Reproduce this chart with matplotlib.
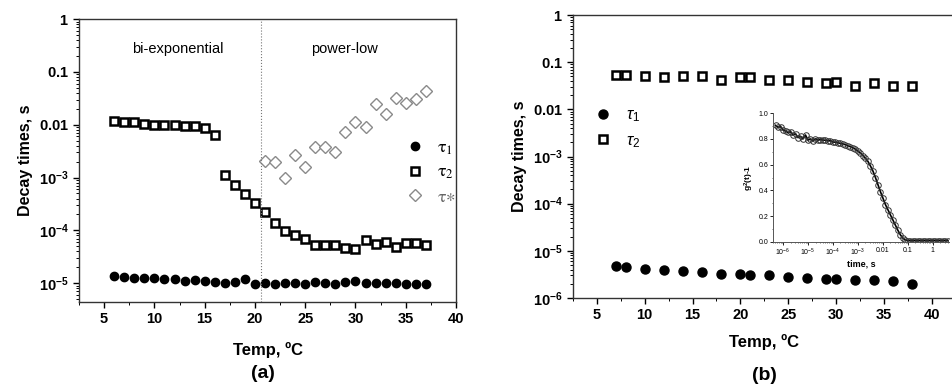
import numpy as np
import matplotlib
matplotlib.use("Agg")
import matplotlib.pyplot as plt
from matplotlib.ticker import LogLocator, MultipleLocator, NullFormatter, FuncFormatter

plt.rcParams['font.family'] = ['Liberation Sans', 'DejaVu Sans']
plt.rcParams['mathtext.fontset'] = 'custom'
plt.rcParams['mathtext.rm'] = 'Liberation Sans'
plt.rcParams['mathtext.bf'] = 'Liberation Sans:bold'
plt.rcParams['mathtext.it'] = 'Liberation Sans:italic'

# ---- panel (a) ----
tempA = list(range(6, 38))
tau1A = [1.36e-5, 1.3e-5, 1.28e-5, 1.25e-5, 1.23e-5, 1.18e-5, 1.2e-5, 1.1e-5,
         1.13e-5, 1.1e-5, 1.04e-5, 1.0e-5, 1.06e-5, 1.18e-5, 0.95e-5, 1.03e-5,
         0.98e-5, 1.0e-5, 1.03e-5, 0.97e-5, 1.04e-5, 1.02e-5, 0.98e-5, 1.04e-5,
         1.1e-5, 1.02e-5, 1.02e-5, 1.0e-5, 1.0e-5, 0.97e-5, 0.97e-5, 0.98e-5]
tau2A = [0.0117, 0.0114, 0.0112, 0.0104, 0.0099, 0.0097, 0.0097, 0.0096,
         0.0093, 0.0088, 0.0063, 1.12e-3, 7.2e-4, 4.9e-4, 3.3e-4, 2.2e-4,
         1.4e-4, 9.8e-5, 8.1e-5, 7.0e-5, 5.2e-5, 5.2e-5, 5.2e-5, 4.6e-5,
         4.4e-5, 6.6e-5, 5.5e-5, 6.0e-5, 4.9e-5, 5.8e-5, 5.8e-5, 5.2e-5]
tempStar = list(range(21, 38))
tauStar = [2.1e-3, 2.0e-3, 1.0e-3, 2.7e-3, 1.6e-3, 3.8e-3, 3.8e-3, 3.0e-3,
           7.2e-3, 0.0112, 0.009, 0.025, 0.0158, 0.032, 0.026, 0.031, 0.043]
transitionT = 20.6

# ---- panel (b) ----
tempB = [7, 8, 10, 12, 14, 16, 18, 20, 21, 23, 25, 27, 29, 30, 32, 34, 36, 38]
tau1B = [4.7e-6, 4.5e-6, 4.2e-6, 3.9e-6, 3.7e-6, 3.6e-6, 3.3e-6, 3.2e-6, 3.1e-6,
         3.0e-6, 2.85e-6, 2.6e-6, 2.5e-6, 2.5e-6, 2.4e-6, 2.4e-6, 2.3e-6, 1.96e-6]
tau2B = [0.054, 0.054, 0.052, 0.048, 0.050, 0.050, 0.041, 0.048, 0.048,
         0.041, 0.041, 0.039, 0.036, 0.039, 0.032, 0.036, 0.031, 0.031]

# inset: correlation function, log10(time) and g2-1
logTime = [-6.3, -6.2, -6.1, -6.0, -5.9, -5.8, -5.7, -5.6, -5.5, -5.4,
           -5.3, -5.2, -5.1, -5.0, -4.9, -4.8, -4.7, -4.6, -4.5, -4.4,
           -4.3, -4.2, -4.1, -4.0, -3.9, -3.8, -3.7, -3.6, -3.5, -3.4,
           -3.3, -3.2, -3.1, -3.0, -2.9, -2.8, -2.7, -2.6, -2.5, -2.4,
           -2.3, -2.2, -2.1, -2.0, -1.9, -1.8, -1.7, -1.6, -1.5, -1.4,
           -1.3, -1.2, -1.1, -1.0, -0.9, -0.8, -0.7, -0.6, -0.5, -0.4,
           -0.3, -0.2, -0.1, 0.0, 0.1, 0.2, 0.3, 0.4, 0.5, 0.6]
g2 = [0.905, 0.89, 0.895, 0.87, 0.86, 0.85, 0.855, 0.83, 0.84, 0.81,
      0.82, 0.80, 0.83, 0.79, 0.80, 0.785, 0.80, 0.79, 0.795, 0.79,
      0.79, 0.785, 0.785, 0.775, 0.775, 0.77, 0.765, 0.76, 0.755, 0.745,
      0.74, 0.73, 0.72, 0.705, 0.69, 0.67, 0.65, 0.625, 0.59, 0.55,
      0.50, 0.445, 0.39, 0.34, 0.29, 0.25, 0.21, 0.17, 0.13, 0.09,
      0.055, 0.03, 0.015, 0.01, 0.01, 0.01, 0.01, 0.01, 0.01, 0.01,
      0.01, 0.01, 0.01, 0.01, 0.01, 0.01, 0.01, 0.01, 0.01, 0.01]

plainDecades = {0: '1', -1: '0.1', -2: '0.01'}


def logLabel(v, pos):
    e = int(round(np.log10(v)))
    if e in plainDecades:
        return r'$\mathbf{%s}$' % plainDecades[e]
    return r'$\mathbf{10^{%d}}$' % e


def insetLabel(v, pos):
    e = int(round(np.log10(v)))
    if e in plainDecades:
        return plainDecades[e]
    return r'$10^{%d}$' % e


def styleMain(ax, ylim, xpad):
    ax.set_yscale('log')
    ax.set_xlim(2.5, 42.5)
    ax.set_ylim(*ylim)
    ax.xaxis.set_major_locator(MultipleLocator(5))
    ax.xaxis.set_minor_locator(MultipleLocator(2.5))
    ax.yaxis.set_major_locator(LogLocator(base=10, numticks=10))
    ax.yaxis.set_minor_locator(LogLocator(base=10, subs=np.arange(2, 10), numticks=20))
    ax.yaxis.set_major_formatter(FuncFormatter(logLabel))
    ax.yaxis.set_minor_formatter(NullFormatter())
    ax.tick_params(which='major', direction='out', length=4, width=1, labelsize=10.5)
    ax.tick_params(which='minor', direction='out', length=2, width=0.7)
    ax.tick_params(top=False, right=False)
    for lab in ax.get_xticklabels():
        lab.set_fontweight('bold')
    for s in ax.spines.values():
        s.set_linewidth(1.0)
        s.set_color('#333333')
    ax.set_xlabel('Temp, ºC', fontsize=12, fontweight='bold', labelpad=xpad)
    ax.set_ylabel('Decay times, s', fontsize=11.5, fontweight='bold', labelpad=4)


fig = plt.figure(figsize=(9.52, 3.87), dpi=100)

# (a)
axA = fig.add_axes([0.083, 0.2196, 0.396, 0.731])
axA.plot(tempA, tau1A, 'o', color='black', ms=6, label=r'$\mathrm{\tau}_1$')
axA.plot(tempA, tau2A, 's', mfc='white', mec='black', mew=1.8, ms=6, label=r'$\mathrm{\tau}_2$')
axA.plot(tempStar, tauStar, 'D', mfc='white', mec='#8a8a8a', mew=1.0, ms=6.3, label=r'$\mathrm{\tau}{\ast}$')
axA.axvline(transitionT, color='#777777', ls=':', lw=0.8)
styleMain(axA, (4.4e-6, 1), 11)
axA.set_xlim(2.5, 40)
axA.text(0.262, 0.895, 'bi-exponential', transform=axA.transAxes, ha='center', va='center', fontsize=10.5)
axA.text(0.703, 0.895, 'power-low', transform=axA.transAxes, ha='center', va='center', fontsize=10.5)
legA = axA.legend(loc='upper left', bbox_to_anchor=(0.835, 0.62), frameon=False, handlelength=1.0,
                  handletextpad=0.7, labelspacing=0.4, borderpad=0.2,
                  prop={'size': 13, 'math_fontfamily': 'stix'})
legA.get_texts()[2].set_color('#666666')
fig.text(0.276, 0.035, '(a)', ha='center', va='center', fontsize=14, fontweight='bold')

# (b)
axB = fig.add_axes([0.6019, 0.23, 0.4018, 0.731])
axB.plot(tempB, tau1B, 'o', color='black', ms=6.5, label=r'$\tau_1$')
axB.plot(tempB, tau2B, 's', mfc='white', mec='black', mew=1.8, ms=5.5, label=r'$\tau_2$')
styleMain(axB, (1e-6, 1), 8)
axB.legend(loc='upper left', bbox_to_anchor=(0.025, 0.715), frameon=False, handlelength=1.0,
           handletextpad=0.9, labelspacing=0.55, borderpad=0.2, fontsize=12)
fig.text(0.803, 0.03, '(b)', ha='center', va='center', fontsize=14, fontweight='bold')

# inset
axI = fig.add_axes([0.812, 0.3747, 0.185, 0.333])
tInset = [10 ** v for v in logTime]
axI.plot(tInset, g2, '-', color='black', lw=1.2)
axI.plot(tInset, g2, 'o', mfc='none', mec='#333333', mew=0.7, ms=4)
axI.set_xscale('log')
axI.set_xlim(10 ** -6.4, 10 ** 0.65)
axI.set_ylim(0, 1.0)
axI.xaxis.set_major_locator(LogLocator(base=10, numticks=12))
axI.xaxis.set_minor_locator(LogLocator(base=10, subs=np.arange(2, 10), numticks=20))
axI.xaxis.set_minor_formatter(NullFormatter())
axI.xaxis.set_major_formatter(FuncFormatter(insetLabel))
axI.yaxis.set_major_locator(MultipleLocator(0.2))
axI.yaxis.set_minor_locator(MultipleLocator(0.1))
axI.yaxis.set_major_formatter(FuncFormatter(lambda v, p: '%.1f' % v))
axI.tick_params(which='major', direction='out', length=2, width=0.6, labelsize=5, pad=1.5)
axI.tick_params(which='minor', direction='out', length=1, width=0.4)
for s in ['top', 'right']:
    axI.spines[s].set_visible(False)
for s in ['left', 'bottom']:
    axI.spines[s].set_linewidth(0.7)
    axI.spines[s].set_color('#555555')
axI.set_xlabel('time, s', fontsize=6.5, fontweight='bold', labelpad=1)
axI.set_ylabel(r'$\mathbf{g^2(t)}$-1', fontsize=6, fontweight='bold', labelpad=2)

fig.savefig('out.png', dpi=100)
